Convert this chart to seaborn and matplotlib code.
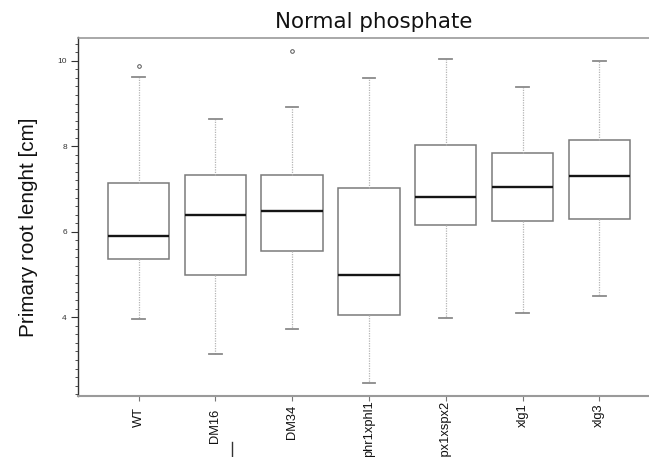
import numpy as np
import pandas as pd
import matplotlib
matplotlib.use("Agg")
import matplotlib.pyplot as plt
import seaborn as sns
from matplotlib.ticker import MultipleLocator, FixedLocator
from matplotlib.lines import Line2D
from matplotlib.transforms import ScaledTranslation

# ---- data ----
groups = ["WT", "DM16", "DM34", "phr1xphl1", "spx1xspx2", "xlg1", "xlg3"]
whisker_low = [3.96, 3.13, 3.73, 2.47, 3.98, 4.10, 4.50]
q1 = [5.36, 5.00, 5.55, 4.05, 6.16, 6.25, 6.29]
median = [5.91, 6.39, 6.49, 4.98, 6.81, 7.04, 7.30]
q3 = [7.15, 7.33, 7.33, 7.02, 8.04, 7.84, 8.15]
whisker_high = [9.62, 8.63, 8.91, 9.60, 10.05, 9.39, 9.99]
outlier_groups = ["WT", "DM34"]
outlier_values = [9.89, 10.22]
yticks = [4, 6, 8, 10]

# five-number summaries as long-form data (n=5 -> quartiles land exactly)
rows = []
for g, lo, a, m, b, hi in zip(groups, whisker_low, q1, median, q3, whisker_high):
    for v in (lo, a, m, b, hi):
        rows.append({"group": g, "value": v})
df = pd.DataFrame(rows)

fig = plt.figure(figsize=(6.49, 4.57), dpi=100)
W, H = 649, 457
ax_left, ax_right, ax_top, ax_bottom = 78.3, 649, 37.5, 396
ax = fig.add_axes([ax_left / W, (H - ax_bottom) / H,
                   (ax_right - ax_left) / W, (ax_bottom - ax_top) / H])

sns.boxplot(data=df, x="group", y="value", order=groups, width=0.8,
            color="white", linecolor="#7a7a7a", linewidth=1.1, whis=1.5,
            showfliers=False, capwidths=0.165,
            medianprops=dict(color="#151515", linewidth=1.7),
            whiskerprops=dict(color="#b5b5b5", linestyle=(0, (1, 1)), linewidth=0.9),
            capprops=dict(color="#8a8a8a", linewidth=1.3),
            boxprops=dict(edgecolor="#7a7a7a", facecolor="white", linewidth=1.1),
            ax=ax)

sns.stripplot(x=outlier_groups, y=outlier_values, order=groups, jitter=False,
              color="white", edgecolor="#555555", linewidth=0.7, size=2.6, ax=ax)

ax.set_xlim(-0.784, 6.647)
ax.set_ylim(2.159, 10.545)

# spines
ax.spines["right"].set_visible(False)
ax.spines["top"].set_color("#9a9a9a")
ax.spines["top"].set_linewidth(1.2)
ax.spines["bottom"].set_color("#9a9a9a")
ax.spines["bottom"].set_linewidth(1.5)
ax.spines["left"].set_color("#333333")
ax.spines["left"].set_linewidth(1.0)

# y ticks
ax.yaxis.set_major_locator(FixedLocator(yticks))
ax.yaxis.set_minor_locator(MultipleLocator(0.2))
ax.set_yticklabels([str(t) for t in yticks])
ax.tick_params(axis="y", which="major", length=4.8, width=0.8, color="#333333",
               labelsize=6, labelcolor="#333333", pad=3.5)
ax.tick_params(axis="y", which="minor", length=2.4, width=0.6, color="#333333")
for lab in ax.get_yticklabels():
    lab.set_family("Liberation Sans")

# x ticks
ax.set_xticks(range(len(groups)))
ax.set_xticklabels(groups, rotation=90, fontsize=9.3, family="Liberation Sans",
                   color="#111111")
ax.tick_params(axis="x", which="major", length=3.5, width=0.8, color="#777777", pad=2.5)
# per-label vertical nudges (pixels, positive = up) as seen in the reference
label_nudge_px = [-3, -4, 0, 4, 4, 1, 1]
for lab, dy in zip(ax.get_xticklabels(), label_nudge_px):
    lab.set_transform(lab.get_transform() +
                      ScaledTranslation(0, dy / 100, fig.dpi_scale_trans))

ax.set_xlabel("")
ax.set_ylabel("Primary root lenght [cm]", fontsize=14.9, family="Liberation Sans",
              color="#111111")
ax.yaxis.set_label_coords(-0.0706, 0.47)

ax.set_title("Normal phosphate", fontsize=15.4, pad=6.6, x=0.518,
             family="DejaVu Sans", color="#111111")

# small stray mark under the DM16 label in the reference
fig.add_artist(Line2D([231.7 / W, 231.7 / W], [0, (H - 441.7) / H],
                      color="#333333", linewidth=1.0))

fig.savefig("out.png", dpi=100)
